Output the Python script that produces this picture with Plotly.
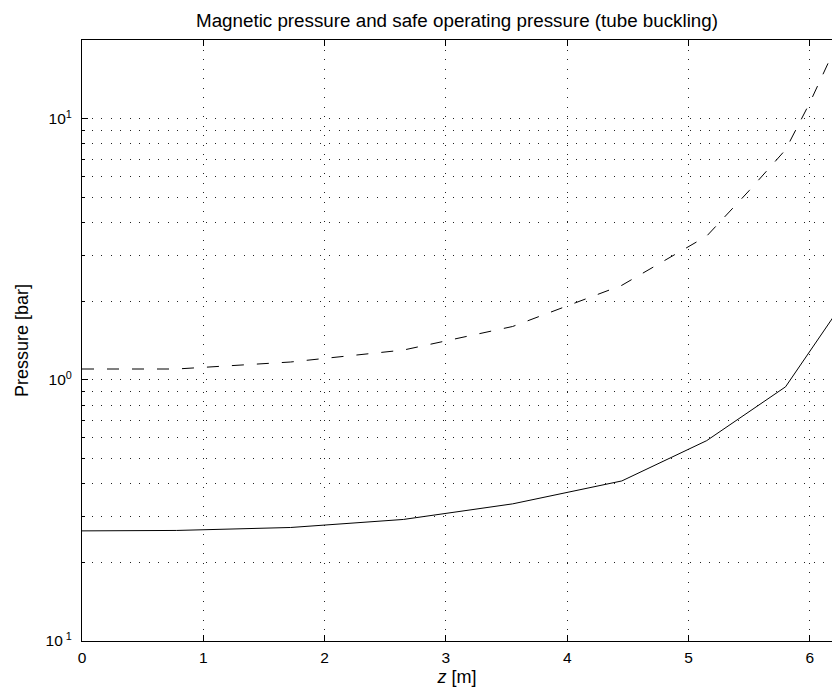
import plotly.graph_objects as go

# Data
z_solid = [0, 0.78, 1.72, 2.65, 3.55, 4.45, 5.15, 5.8, 6.25]
p_solid = [0.264, 0.265, 0.272, 0.292, 0.335, 0.41, 0.585, 0.94, 1.9]

z_dashed = [0, 0.78, 1.72, 2.65, 3.55, 4.45, 5.15, 5.5, 5.8, 6.0, 6.25]
p_dashed = [1.10, 1.10, 1.17, 1.30, 1.60, 2.30, 3.55, 5.3, 7.6, 11.5, 20.5]

x_ticks = [0, 1, 2, 3, 4, 5, 6]
y_tickvals = [0.1, 1, 10]
y_ticktext = ["10<sup> 1</sup>", "10<sup>0</sup>", "10<sup>1</sup>"]

FONT = "Liberation Sans, Arial, Helvetica, sans-serif"
DOT = "1px,8.5px"

fig = go.Figure()
fig.add_trace(go.Scatter(x=z_solid, y=p_solid, mode="lines",
                         line=dict(color="black", width=1), showlegend=False))
fig.add_trace(go.Scatter(x=z_dashed, y=p_dashed, mode="lines",
                         line=dict(color="black", width=1, dash="12px,13px"),
                         showlegend=False))

fig.update_layout(
    width=824, height=679,
    margin=dict(l=74, r=0, t=32, b=46),
    paper_bgcolor="white", plot_bgcolor="white",
    font=dict(family=FONT, size=15.5, color="black"),
    title=dict(text="Magnetic pressure and safe operating pressure (tube buckling)",
               x=0.5, xref="paper", xanchor="center",
               y=1 - 12 / 679, yref="container", yanchor="middle",
               font=dict(size=18.8)),
    xaxis=dict(range=[0, 6.183], tickvals=x_ticks, automargin=False,
               showline=True, linecolor="black", linewidth=1, mirror="ticks",
               ticks="inside", ticklen=6, tickcolor="black",
               showgrid=True, gridcolor="#222", gridwidth=1, griddash=DOT,
               zeroline=False, ticklabelstandoff=2,
               title=dict(text="<i>z</i> [m]", standoff=14, font=dict(size=18))),
    yaxis=dict(type="log", range=[-1, 1.301], automargin=False,
               tickvals=y_tickvals, ticktext=y_ticktext,
               showline=True, linecolor="black", linewidth=1, mirror=False,
               ticks="inside", ticklen=6, tickcolor="black",
               showgrid=True, gridcolor="#222", gridwidth=1, griddash=DOT,
               zeroline=False, ticklabelstandoff=6,
               minor=dict(dtick="D1", showgrid=True, gridcolor="#222",
                          griddash=DOT, gridwidth=1,
                          ticks="inside", ticklen=3, tickcolor="black"),
               title=dict(text="Pressure [bar]", standoff=12, font=dict(size=18))),
)

fig.write_html("out.html")
